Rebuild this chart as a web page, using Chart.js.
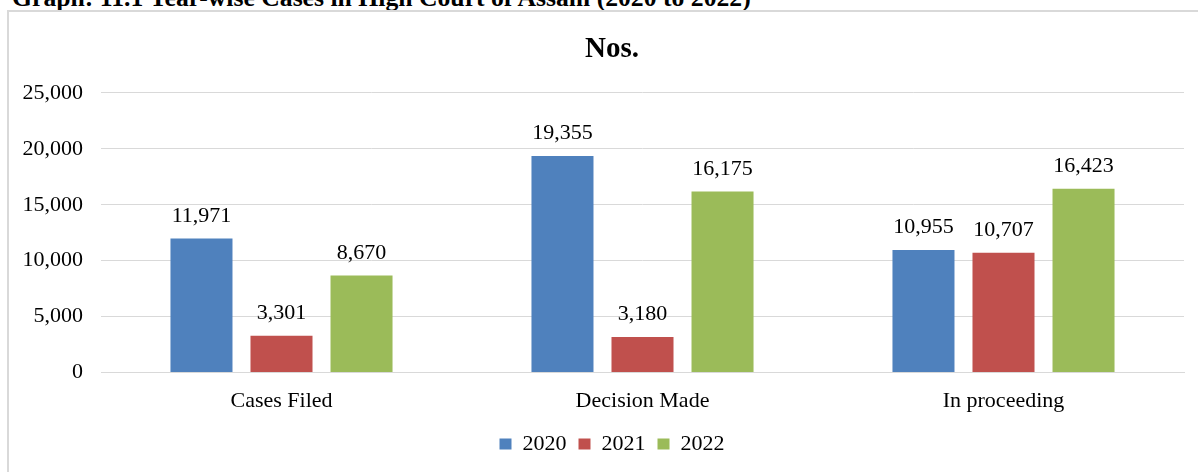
<!DOCTYPE html>
<html>
<head>
<meta charset="utf-8">
<script src="https://cdn.jsdelivr.net/npm/chart.js@4/dist/chart.umd.min.js"></script>
<style>
  html, body { margin: 0; padding: 0; background: #fff; overflow: hidden; }
  body { width: 1198px; height: 472px; position: relative; font-family: "Liberation Serif", "Times New Roman", serif; }
  #caption { position: absolute; left: 12px; top: -17px; font-weight: bold; font-size: 25.7px; white-space: nowrap; color: #000; }
  #box { position: absolute; left: 7px; top: 10px; width: 1220px; height: 470px; border: 2px solid #d9d9d9; box-sizing: border-box; }
  /* the original chart runs past the right edge of the picture, so the canvas does too */
  #wrap { position: absolute; left: 9px; top: 12px; width: 1201px; height: 460px; }
</style>
</head>
<body>
<div id="caption">Graph: 11.1 Year-wise Cases in High Court of Assam (2020 to 2022)</div>
<div id="box"></div>
<div id="wrap"><canvas id="myChart"></canvas></div>
<script>
// chart data
const categories = ['Cases Filed', 'Decision Made', 'In proceeding'];
const years = ['2020', '2021', '2022'];
const values2020 = [11971, 19355, 10955];
const values2021 = [3301, 3180, 10707];
const values2022 = [8670, 16175, 16423];
const yTicks = [0, 5000, 10000, 15000, 20000, 25000];

const colors = ['#4f81bd', '#c0504d', '#9bbb59'];
const fmt = v => v.toLocaleString('en-US');

// draws the number above each bar
const barLabels = {
  id: 'barLabels',
  afterDatasetsDraw(chart) {
    const ctx = chart.ctx;
    ctx.save();
    ctx.font = '22px "Liberation Serif"';
    ctx.fillStyle = '#000';
    ctx.textAlign = 'center';
    ctx.textBaseline = 'alphabetic';
    chart.data.datasets.forEach((ds, i) => {
      chart.getDatasetMeta(i).data.forEach((bar, j) => {
        ctx.fillText(fmt(ds.data[j]), bar.x, bar.y - 17);
      });
    });
    ctx.restore();
  }
};

const ctx = document.getElementById('myChart').getContext('2d');
new Chart(ctx, {
  type: 'bar',
  data: {
    labels: categories,
    datasets: [
      { label: years[0], data: values2020, backgroundColor: colors[0] },
      { label: years[1], data: values2021, backgroundColor: colors[1] },
      { label: years[2], data: values2022, backgroundColor: colors[2] }
    ]
  },
  options: {
    responsive: true,
    maintainAspectRatio: false,
    animation: false,
    categoryPercentage: 0.665,
    barPercentage: 0.775,
    layout: { padding: { left: 14, right: 9, top: 0, bottom: 7 } },
    plugins: {
      title: {
        display: true,
        text: 'Nos.',
        color: '#000',
        font: { family: 'Liberation Serif', size: 29, weight: 'bold' },
        padding: { top: 20, bottom: 26 }
      },
      legend: {
        position: 'bottom',
        labels: {
          color: '#000',
          font: { family: 'Liberation Serif', size: 22 },
          boxWidth: 12,
          boxHeight: 11,
          padding: 12
        }
      },
      tooltip: { enabled: false }
    },
    scales: {
      x: {
        grid: { display: false },
        border: { color: '#d9d9d9', width: 1 },
        ticks: { color: '#000', font: { family: 'Liberation Serif', size: 22 }, padding: 7 }
      },
      y: {
        min: 0,
        max: 25000,
        afterBuildTicks: axis => { axis.ticks = yTicks.map(v => ({ value: v })); },
        afterFit: axis => { axis.width = 78; },
        grid: { color: '#d9d9d9', lineWidth: 1, drawTicks: false },
        border: { display: false },
        ticks: {
          color: '#000',
          font: { family: 'Liberation Serif', size: 22 },
          padding: 18,
          callback: v => fmt(v)
        }
      },
      // empty spacer on the right, keeps the plot ending where the original does
      yRight: {
        position: 'right',
        min: 0,
        max: 25000,
        grid: { display: false },
        border: { display: false },
        ticks: { display: false },
        afterFit: axis => { axis.width = 17; }
      }
    }
  },
  plugins: [barLabels]
});
</script>
</body>
</html>
